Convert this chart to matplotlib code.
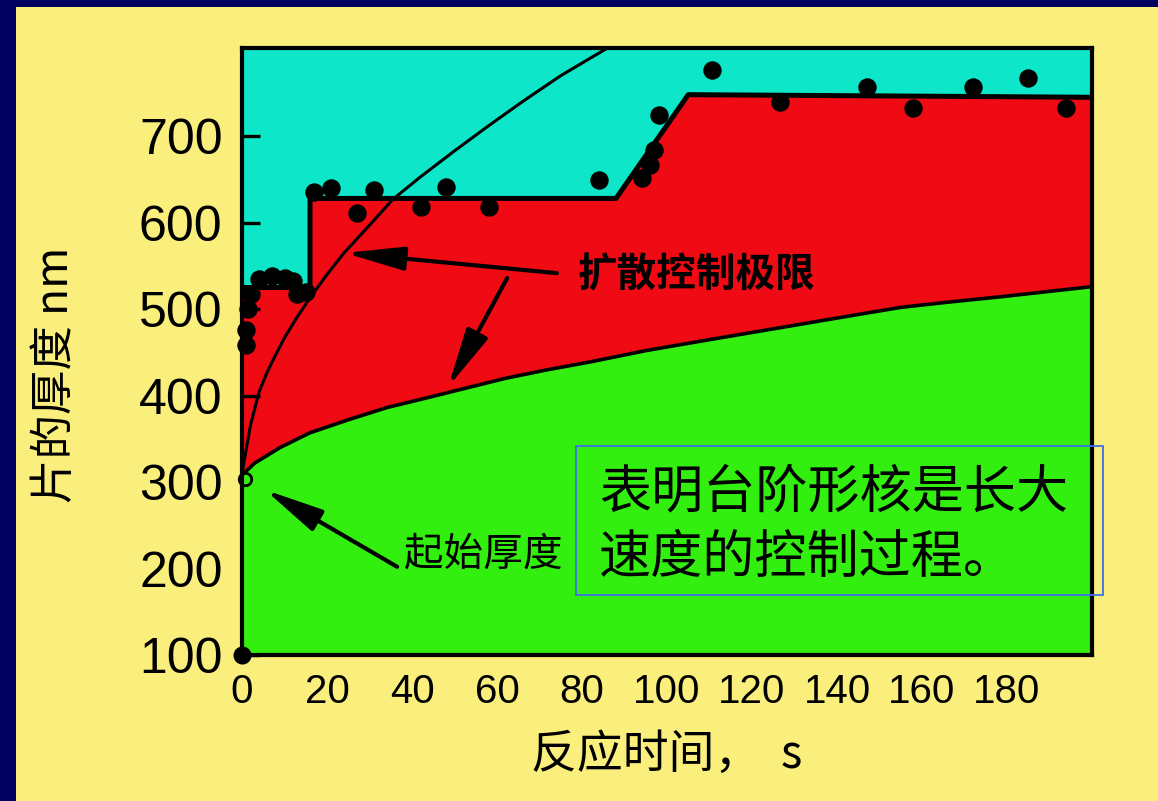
import numpy as np
import matplotlib.pyplot as plt
from matplotlib.patches import Rectangle

# upper boundary of the red zone (step growth of the plate)
step_t = [0, 16, 16, 88, 105, 200]
step_h = [525, 525, 628, 628, 748, 745]

# lower boundary (green zone top)
base_t = [0, 3, 9, 16, 25, 34, 44, 53, 62, 72, 82, 95, 108, 120, 132, 144, 155, 166, 178, 189, 200]
base_h = [308, 322, 340, 357, 372, 386, 398, 409, 420, 430, 439, 452, 463, 473, 483, 493, 502, 508, 514, 520, 526]

# diffusion-limit curve
diff_t = [0, 1, 2, 4, 6, 8, 10, 13, 16, 20, 24, 30, 35.5, 42, 50, 58, 66, 75, 86, 90]
diff_h = [310, 338, 366, 404, 428, 448, 467, 491, 513, 540, 565, 597, 627, 653, 683, 712, 740, 770, 802, 815]

# measured thickness
pt_t = [1, 1, 1.5, 2, 4, 7, 10, 12, 13, 15, 17, 21, 27, 31, 42, 48, 58,
        84, 94, 96, 97, 98, 110.6, 126.6, 147, 158, 172, 185, 194]
pt_h = [458, 476, 500, 518, 535, 538, 536, 532, 518, 520, 635, 640, 611, 638, 618, 641, 618,
        649, 652, 667, 684, 724, 776, 739, 757, 733, 757, 767, 733]

xticks = [0, 20, 40, 60, 80, 100, 120, 140, 160, 180]
yticks = [100, 200, 300, 400, 500, 600, 700]

navy = '#00005e'
yellow = '#faee7d'
cyan = '#0de6c8'
red = '#f00a14'
green = '#33ef10'

plt.rcParams['font.family'] = ['Noto Sans CJK SC', 'DejaVu Sans']


# pixel positions -> figure coordinates
def fx(px):
    return px / 1158


def fy(py):
    return (801 - py) / 801


fig = plt.figure(figsize=(11.58, 8.01), dpi=100, facecolor=navy)
fig.patches.append(Rectangle((fx(16), 0), 1, fy(7),
                             transform=fig.transFigure, facecolor=yellow,
                             edgecolor='none', zorder=-5))

ax = fig.add_axes([0.2090, 0.1823, 0.7340, 0.7578])
ax.set_zorder(1)
ax.set_facecolor(cyan)
ax.set_xlim(0, 200)
ax.set_ylim(100, 802)

ax.fill_between(step_t, 100, step_h, color=red, lw=0, zorder=1)
ax.fill_between(base_t, 100, base_h, color=green, lw=0, zorder=2)

ax.plot(step_t, step_h, color='k', lw=3.6, solid_joinstyle='round', zorder=4)
ax.plot(base_t, base_h, color='k', lw=2.6, zorder=4)
ax.plot(diff_t, diff_h, color='k', lw=2.2, zorder=4)

ax.scatter(pt_t, pt_h, s=150, color='k', zorder=5, clip_on=False)
ax.plot([0], [100], 'o', ms=12, color='k', clip_on=False, zorder=6)
ax.plot([0.8], [304], 'o', ms=9, mfc='none', mec='k', mew=2, clip_on=False, zorder=6)

# annotations
arrow_kw = dict(arrowstyle='-|>,head_length=1.5,head_width=0.3', color='k',
                lw=3, mutation_scale=24, shrinkA=0, shrinkB=0)
ax.annotate('', xy=(24.2, 565), xytext=(74.1, 541.6), arrowprops=arrow_kw, zorder=6)
ax.annotate('', xy=(48.5, 410), xytext=(62.4, 536), arrowprops=arrow_kw, zorder=6)
ax.annotate('', xy=(5.4, 291), xytext=(36.5, 202), arrowprops=arrow_kw, zorder=6)

fig.text(fx(697), fy(275), '扩散控制极限', fontsize=28.5, fontweight='bold',
         ha='center', va='center', color='k', zorder=7)
fig.text(fx(483), fy(555), '起始厚度', fontsize=28.5,
         ha='center', va='center', color='k', zorder=7)

fig.patches.append(Rectangle((fx(576), fy(595)), fx(1103) - fx(576), fy(446) - fy(595),
                             transform=fig.transFigure, facecolor='none',
                             edgecolor='#3f6fe6', lw=1.3, zorder=10))
fig.text(fx(599), fy(493), '表明台阶形核是长大', fontsize=37.5, ha='left', va='center',
         color='k', zorder=7)
fig.text(fx(599), fy(558), '速度的控制过程。', fontsize=37.5, ha='left', va='center',
         color='k', zorder=7)

# axes styling
for s in ax.spines.values():
    s.set_linewidth(3)
    s.set_color('k')
    s.set_zorder(8)

ax.set_xticks(xticks)
ax.set_yticks(yticks)
ax.tick_params(axis='both', direction='in', width=2.4, color='k')
ax.tick_params(axis='x', length=11, pad=13)
ax.tick_params(axis='y', length=13, pad=14)
for lab in ax.get_xticklabels():
    lab.set_fontfamily('Liberation Sans')
    lab.set_fontsize(29)
for lab in ax.get_yticklabels():
    lab.set_fontfamily('Liberation Sans')
    lab.set_fontsize(36)

ax.set_xlabel('反应时间，  s', fontsize=33, labelpad=14)
ax.set_ylabel('片的厚度 nm', fontsize=32)
ax.yaxis.set_label_coords(-0.193, 0.461)

fig.savefig('out.png', dpi=100, facecolor=navy)
